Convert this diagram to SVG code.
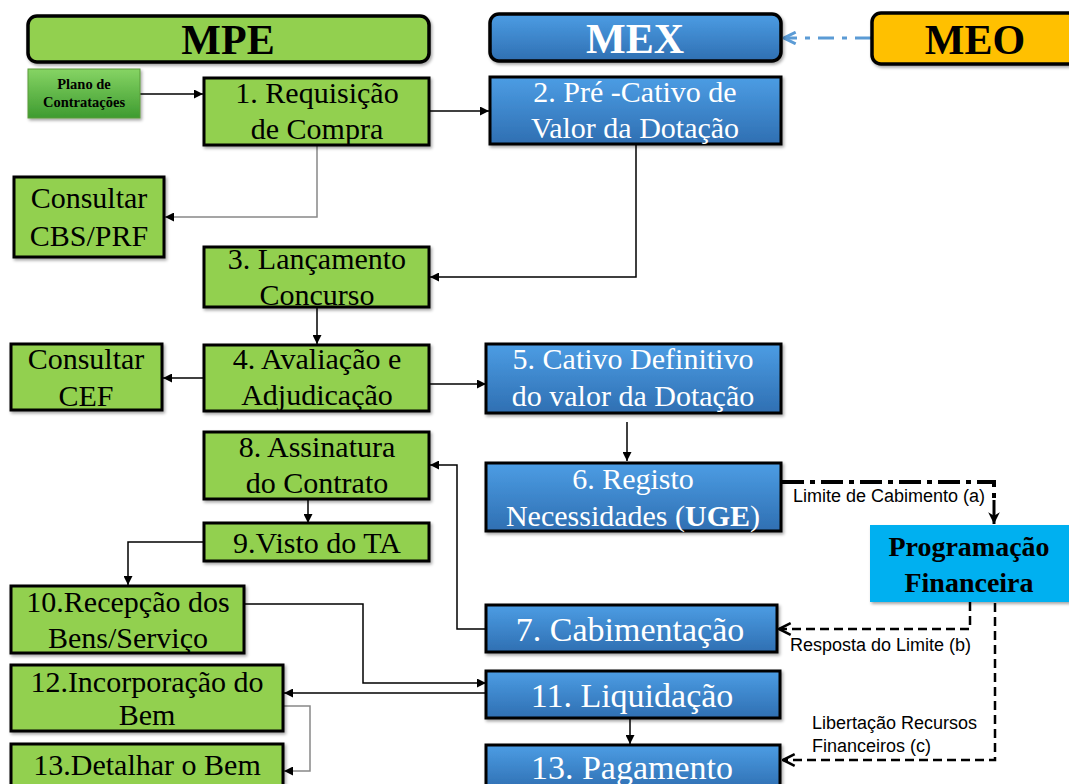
<svg xmlns="http://www.w3.org/2000/svg" width="1069" height="784" viewBox="0 0 1069 784">
<defs>
<linearGradient id="gBlue" x1="0" y1="0" x2="0" y2="1"><stop offset="0" stop-color="#4C9DE4"/><stop offset="1" stop-color="#2F6FB2"/></linearGradient>
<linearGradient id="gPlano" x1="0" y1="0" x2="0" y2="1"><stop offset="0" stop-color="#86D464"/><stop offset="1" stop-color="#3E9B30"/></linearGradient>
<filter id="sh" x="-5%" y="-5%" width="115%" height="125%"><feDropShadow dx="1.5" dy="2" stdDeviation="1.5" flood-color="#000" flood-opacity="0.35"/></filter>
<marker id="arr" viewBox="0 0 10 10" refX="10" refY="5" markerWidth="9" markerHeight="9" markerUnits="userSpaceOnUse" orient="auto"><path d="M0,0 L10,5 L0,10 z" fill="#000"/></marker>
<marker id="arrG" viewBox="0 0 10 10" refX="10" refY="5" markerWidth="9" markerHeight="9" markerUnits="userSpaceOnUse" orient="auto"><path d="M0,0 L10,5 L0,10 z" fill="#000"/></marker>
<marker id="open" viewBox="0 0 12 12" refX="11" refY="6" markerWidth="14" markerHeight="14" markerUnits="userSpaceOnUse" orient="auto"><path d="M1,1 L11,6 L1,11" fill="none" stroke="#000" stroke-width="2.2"/></marker>
<marker id="openB" viewBox="0 0 12 12" refX="11" refY="6" markerWidth="14" markerHeight="14" markerUnits="userSpaceOnUse" orient="auto"><path d="M1,1 L11,6 L1,11" fill="none" stroke="#5B9BD5" stroke-width="2.5"/></marker>
<marker id="thick" viewBox="0 0 12 12" refX="11" refY="6" markerWidth="14" markerHeight="14" markerUnits="userSpaceOnUse" orient="auto"><path d="M1,1 L11,6 L1,11 L4,6 z" fill="#000"/></marker>
</defs>
<style>
.g{fill:#92D050;stroke:#000;stroke-width:3}
.b{fill:url(#gBlue);stroke:#000;stroke-width:3}
.t{font-family:"Liberation Serif","Times New Roman",serif;font-size:30px;fill:#000;text-anchor:middle}
.w{font-family:"Liberation Serif","Times New Roman",serif;font-size:30px;fill:#fff;text-anchor:middle}
.h{font-family:"Liberation Serif","Times New Roman",serif;font-size:40px;font-weight:bold;text-anchor:middle}
.lbl{font-family:"Liberation Sans",Arial,sans-serif;font-size:18px;fill:#000}
.c{fill:none;stroke:#000;stroke-width:1.5}
.cg{fill:none;stroke:#888;stroke-width:1.5}
.d{fill:none;stroke:#000;stroke-width:2.5;stroke-dasharray:9 5}
</style>
<g id="connectors">
<path class="c" d="M140,94 H203" marker-end="url(#arr)"/>
<path class="c" d="M429,111 H489" marker-end="url(#arr)"/>
<path class="cg" d="M317,145 V217 H165" marker-end="url(#arrG)"/>
<path class="c" d="M636,144 V277 H430" marker-end="url(#arr)"/>
<path class="c" d="M317,307 V344" marker-end="url(#arr)"/>
<path class="c" d="M204,378 H163" marker-end="url(#arr)"/>
<path class="c" d="M429,384 H486" marker-end="url(#arr)"/>
<path class="c" d="M627,422 V461" marker-end="url(#arr)"/>
<path class="c" d="M486,629 H457 V465 H430" marker-end="url(#arr)"/>
<path class="c" d="M308,499 V523" marker-end="url(#arr)"/>
<path class="c" d="M204,542 H128 V585" marker-end="url(#arr)"/>
<path class="c" d="M244,604 H363 V683 H486" marker-end="url(#arr)"/>
<path class="c" d="M486,693 H284" marker-end="url(#arr)"/>
<path class="cg" d="M283,706 H310 V771 H284" marker-end="url(#arrG)"/>
<path class="c" d="M630,718 V744" marker-end="url(#arr)"/>
<path fill="none" stroke="#000" stroke-width="4" stroke-dasharray="22 6 5 6" d="M782,482 H994 V500"/>
<path fill="none" stroke="#000" stroke-width="3" d="M994,500 V524" marker-end="url(#thick)"/>
<path class="d" d="M970,602 V629 H779" marker-end="url(#open)"/>
<path class="d" d="M995,603 V760 H783" marker-end="url(#open)"/>
<path fill="none" stroke="#5B9BD5" stroke-width="3" stroke-dasharray="16 8 5 8" d="M871,38 H784" marker-end="url(#openB)"/>
<text class="lbl" x="793" y="502">Limite de Cabimento (a)</text>
<text class="lbl" x="790" y="651">Resposta do Limite (b)</text>
<text class="lbl" x="812" y="729">Libertação Recursos</text>
<text class="lbl" x="812" y="752">Financeiros (c)</text>
</g>
<g id="hdr-mpe"><rect x="28" y="16" width="401" height="46" rx="9" fill="#92D050" stroke="#000" stroke-width="3.5" filter="url(#sh)"/><text class="h" x="228" y="54" style="font-size:42px">MPE</text></g>
<g id="hdr-mex"><rect x="490" y="14" width="291" height="47" rx="9" fill="url(#gBlue)" stroke="#000" stroke-width="3.5" filter="url(#sh)"/><text class="h" x="635" y="53" fill="#fff" style="font-size:42px">MEX</text></g>
<g id="hdr-meo"><rect x="872" y="13" width="210" height="51" rx="9" fill="#FFC000" stroke="#000" stroke-width="3.5" filter="url(#sh)"/><text class="h" x="975" y="54" style="font-size:42px">MEO</text></g>
<g id="plano"><rect x="28" y="69" width="112" height="49" fill="url(#gPlano)" stroke="#5a9a3a" stroke-width="1" filter="url(#sh)"/><text class="t" x="84" y="89" style="font-size:14.5px;font-weight:bold">Plano de</text><text class="t" x="84" y="107" style="font-size:14.5px;font-weight:bold">Contratações</text></g>
<g id="n1"><rect class="g" x="204" y="78" width="225" height="67" filter="url(#sh)"/><text class="t" x="317" y="103">1. Requisição</text><text class="t" x="317" y="139">de Compra</text></g>
<g id="n2"><rect class="b" x="490" y="77" width="291" height="67" filter="url(#sh)"/><text class="w" x="635" y="102">2. Pré -Cativo de</text><text class="w" x="635" y="138">Valor da Dotação</text></g>
<g id="cbs"><rect class="g" x="14" y="177" width="150" height="80" filter="url(#sh)"/><text class="t" x="89" y="208">Consultar</text><text class="t" x="89" y="246">CBS/PRF</text></g>
<g id="n3"><rect class="g" x="204" y="247" width="225" height="60" filter="url(#sh)"/><text class="t" x="317" y="269">3. Lançamento</text><text class="t" x="317" y="305">Concurso</text></g>
<g id="cef"><rect class="g" x="11" y="344" width="151" height="66" filter="url(#sh)"/><text class="t" x="86" y="369">Consultar</text><text class="t" x="86" y="406">CEF</text></g>
<g id="n4"><rect class="g" x="204" y="345" width="225" height="66" filter="url(#sh)"/><text class="t" x="317" y="369">4. Avaliação e</text><text class="t" x="317" y="405">Adjudicação</text></g>
<g id="n5"><rect class="b" x="486" y="344" width="295" height="69" filter="url(#sh)"/><text class="w" x="633" y="369">5. Cativo Definitivo</text><text class="w" x="633" y="406">do valor da Dotação</text></g>
<g id="n8"><rect class="g" x="204" y="432" width="225" height="67" filter="url(#sh)"/><text class="t" x="317" y="457">8. Assinatura</text><text class="t" x="317" y="493">do Contrato</text></g>
<g id="n9"><rect class="g" x="204" y="523" width="225" height="38" filter="url(#sh)"/><text class="t" x="317" y="553">9.Visto do TA</text></g>
<g id="n6"><rect class="b" x="486" y="463" width="295" height="68" filter="url(#sh)"/><text class="w" x="633" y="489">6. Registo</text><text class="w" x="633" y="526">Necessidades (<tspan font-weight="bold">UGE</tspan>)</text></g>
<g id="prog"><rect x="870" y="525" width="205" height="77" fill="#00B0F0" filter="url(#sh)"/><text class="t" x="969" y="556" style="font-weight:bold;font-size:28px">Programação</text><text class="t" x="969" y="592" style="font-weight:bold;font-size:28px">Financeira</text></g>
<g id="n10"><rect class="g" x="11" y="586" width="233" height="67" filter="url(#sh)"/><text class="t" x="128" y="612">10.Recepção dos</text><text class="t" x="128" y="648">Bens/Serviço</text></g>
<g id="n7"><rect class="b" x="486" y="605" width="291" height="47" filter="url(#sh)"/><text class="w" x="630" y="641" style="font-size:34px">7. Cabimentação</text></g>
<g id="n12"><rect class="g" x="11" y="665" width="272" height="66" filter="url(#sh)"/><text class="t" x="147" y="692">12.Incorporação do</text><text class="t" x="147" y="725">Bem</text></g>
<g id="n11"><rect class="b" x="486" y="671" width="294" height="47" filter="url(#sh)"/><text class="w" x="632" y="707" style="font-size:34px">11. Liquidação</text></g>
<g id="n13d"><rect class="g" x="11" y="744" width="272" height="45" filter="url(#sh)"/><text class="t" x="147" y="775">13.Detalhar o Bem</text></g>
<g id="n13p"><rect class="b" x="486" y="745" width="294" height="45" filter="url(#sh)"/><text class="w" x="632" y="779" style="font-size:34px">13. Pagamento</text></g>
</svg>
